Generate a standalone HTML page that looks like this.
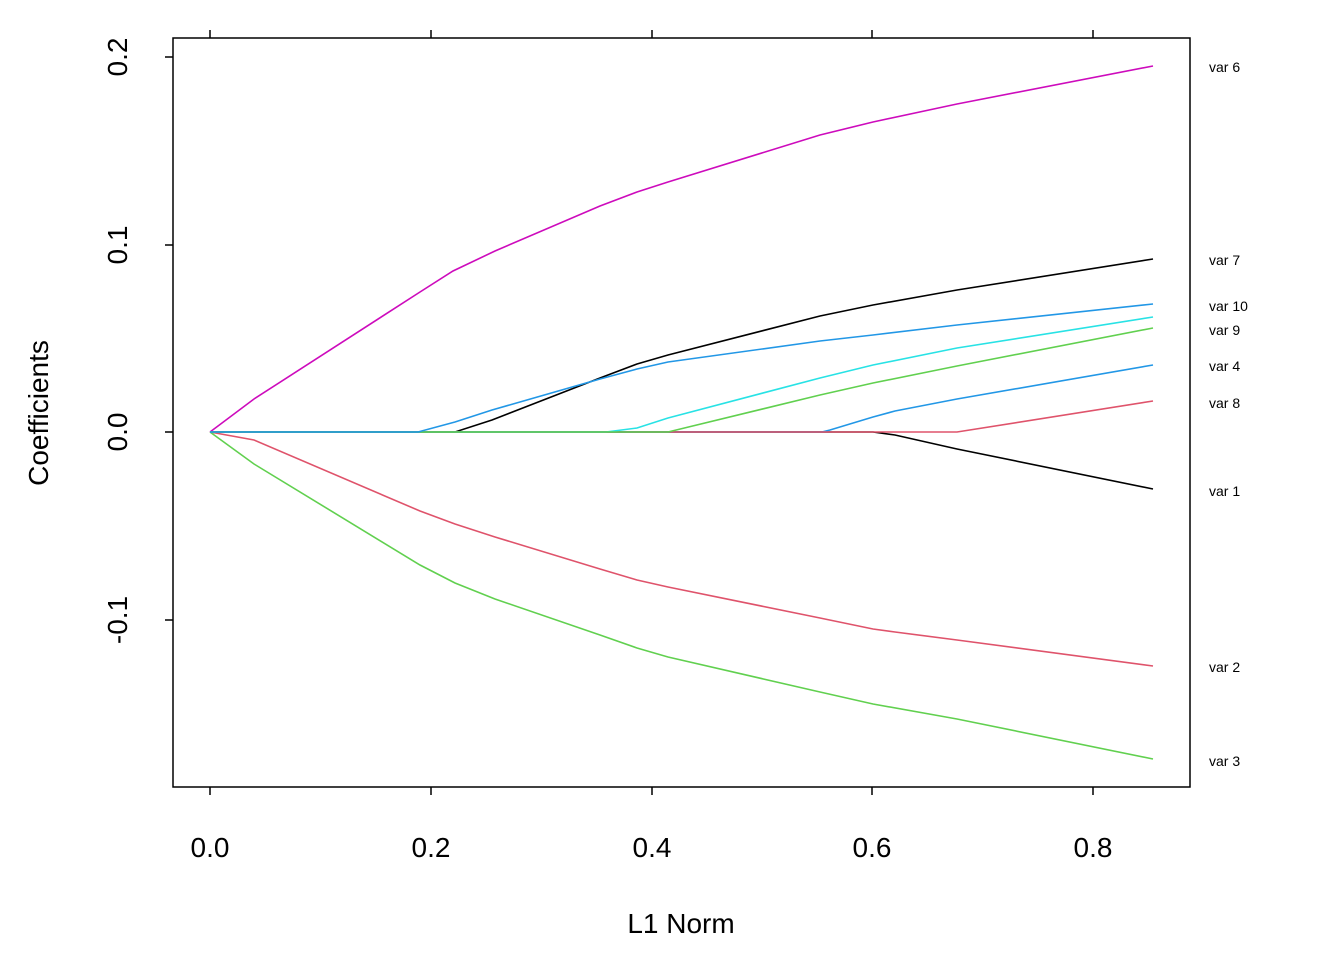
<!DOCTYPE html>
<html><head><meta charset="utf-8"><style>
html,body{margin:0;padding:0;background:#fff;}
svg{display:block;font-family:"Liberation Sans",Arial,sans-serif;}
</style></head><body>
<svg width="1344" height="960" viewBox="0 0 1344 960" xmlns="http://www.w3.org/2000/svg">
<rect width="1344" height="960" fill="#fff"/>
<rect x="173" y="38" width="1017" height="749" fill="none" stroke="#000" stroke-width="1.5"/>
<g stroke="#000" stroke-width="1.5">
<line x1="210" y1="787" x2="210" y2="795"/><line x1="431" y1="787" x2="431" y2="795"/><line x1="652" y1="787" x2="652" y2="795"/><line x1="872" y1="787" x2="872" y2="795"/><line x1="1093" y1="787" x2="1093" y2="795"/>
<line x1="210" y1="38" x2="210" y2="30"/><line x1="431" y1="38" x2="431" y2="30"/><line x1="652" y1="38" x2="652" y2="30"/><line x1="872" y1="38" x2="872" y2="30"/><line x1="1093" y1="38" x2="1093" y2="30"/>
<line x1="173" y1="620" x2="165" y2="620"/><line x1="173" y1="432" x2="165" y2="432"/><line x1="173" y1="245" x2="165" y2="245"/><line x1="173" y1="57" x2="165" y2="57"/>
</g>
<g font-size="28" text-anchor="middle" fill="#000">
<text x="210" y="857">0.0</text><text x="431" y="857">0.2</text><text x="652" y="857">0.4</text><text x="872" y="857">0.6</text><text x="1093" y="857">0.8</text>
<text x="681" y="933">L1 Norm</text>
<text transform="translate(127,620) rotate(-90)">-0.1</text>
<text transform="translate(127,432) rotate(-90)">0.0</text>
<text transform="translate(127,245) rotate(-90)">0.1</text>
<text transform="translate(127,57) rotate(-90)">0.2</text>
<text transform="translate(48,413) rotate(-90)">Coefficients</text>
</g>
<g fill="none" stroke-width="1.6">
<polyline stroke="#CD0BBC" points="210,432 254,399 420,292 453,271 495,251 600,206 637,192 668,182 820,135 873,122 957,104 1153,66"/>
<polyline stroke="#000" points="210,432 873,432 895,435 957,449 1153,489"/>
<polyline stroke="#DF536B" points="210,432 254,440 420,511 455,524 495,537 600,569 637,580 668,587 820,618 873,629 895,632 957,640 1153,666"/>
<polyline stroke="#61D04F" points="210,432 254,464 420,565 455,583 495,599 600,635 637,648 668,657 820,692 873,704 957,719 1153,759"/>
<polyline stroke="#2297E6" points="210,432 822,432 830,430 873,417 895,411 957,399 1153,365"/>
<polyline stroke="#000" points="210,432 455,432 492,420 600,378 637,364 668,355 820,316 873,305 957,290 1153,259"/>
<polyline stroke="#DF536B" points="210,432 957,432 1153,401"/>
<polyline stroke="#28E2E5" points="210,432 606,432 637,428 668,418 820,378 873,365 957,348 1153,317"/>
<polyline stroke="#61D04F" points="210,432 668,432 820,395 873,383 957,366 1153,328"/>
<polyline stroke="#2297E6" points="210,432 418,432 455,422 492,410 600,379 637,369 668,362 820,341 873,335 957,325 1153,304"/>
</g>
<g font-size="14" fill="#000">
<text x="1209" y="72">var 6</text>
<text x="1209" y="265">var 7</text>
<text x="1209" y="311">var 10</text>
<text x="1209" y="335">var 9</text>
<text x="1209" y="371">var 4</text>
<text x="1209" y="408">var 8</text>
<text x="1209" y="496">var 1</text>
<text x="1209" y="672">var 2</text>
<text x="1209" y="766">var 3</text>
</g>
</svg>
</body></html>
